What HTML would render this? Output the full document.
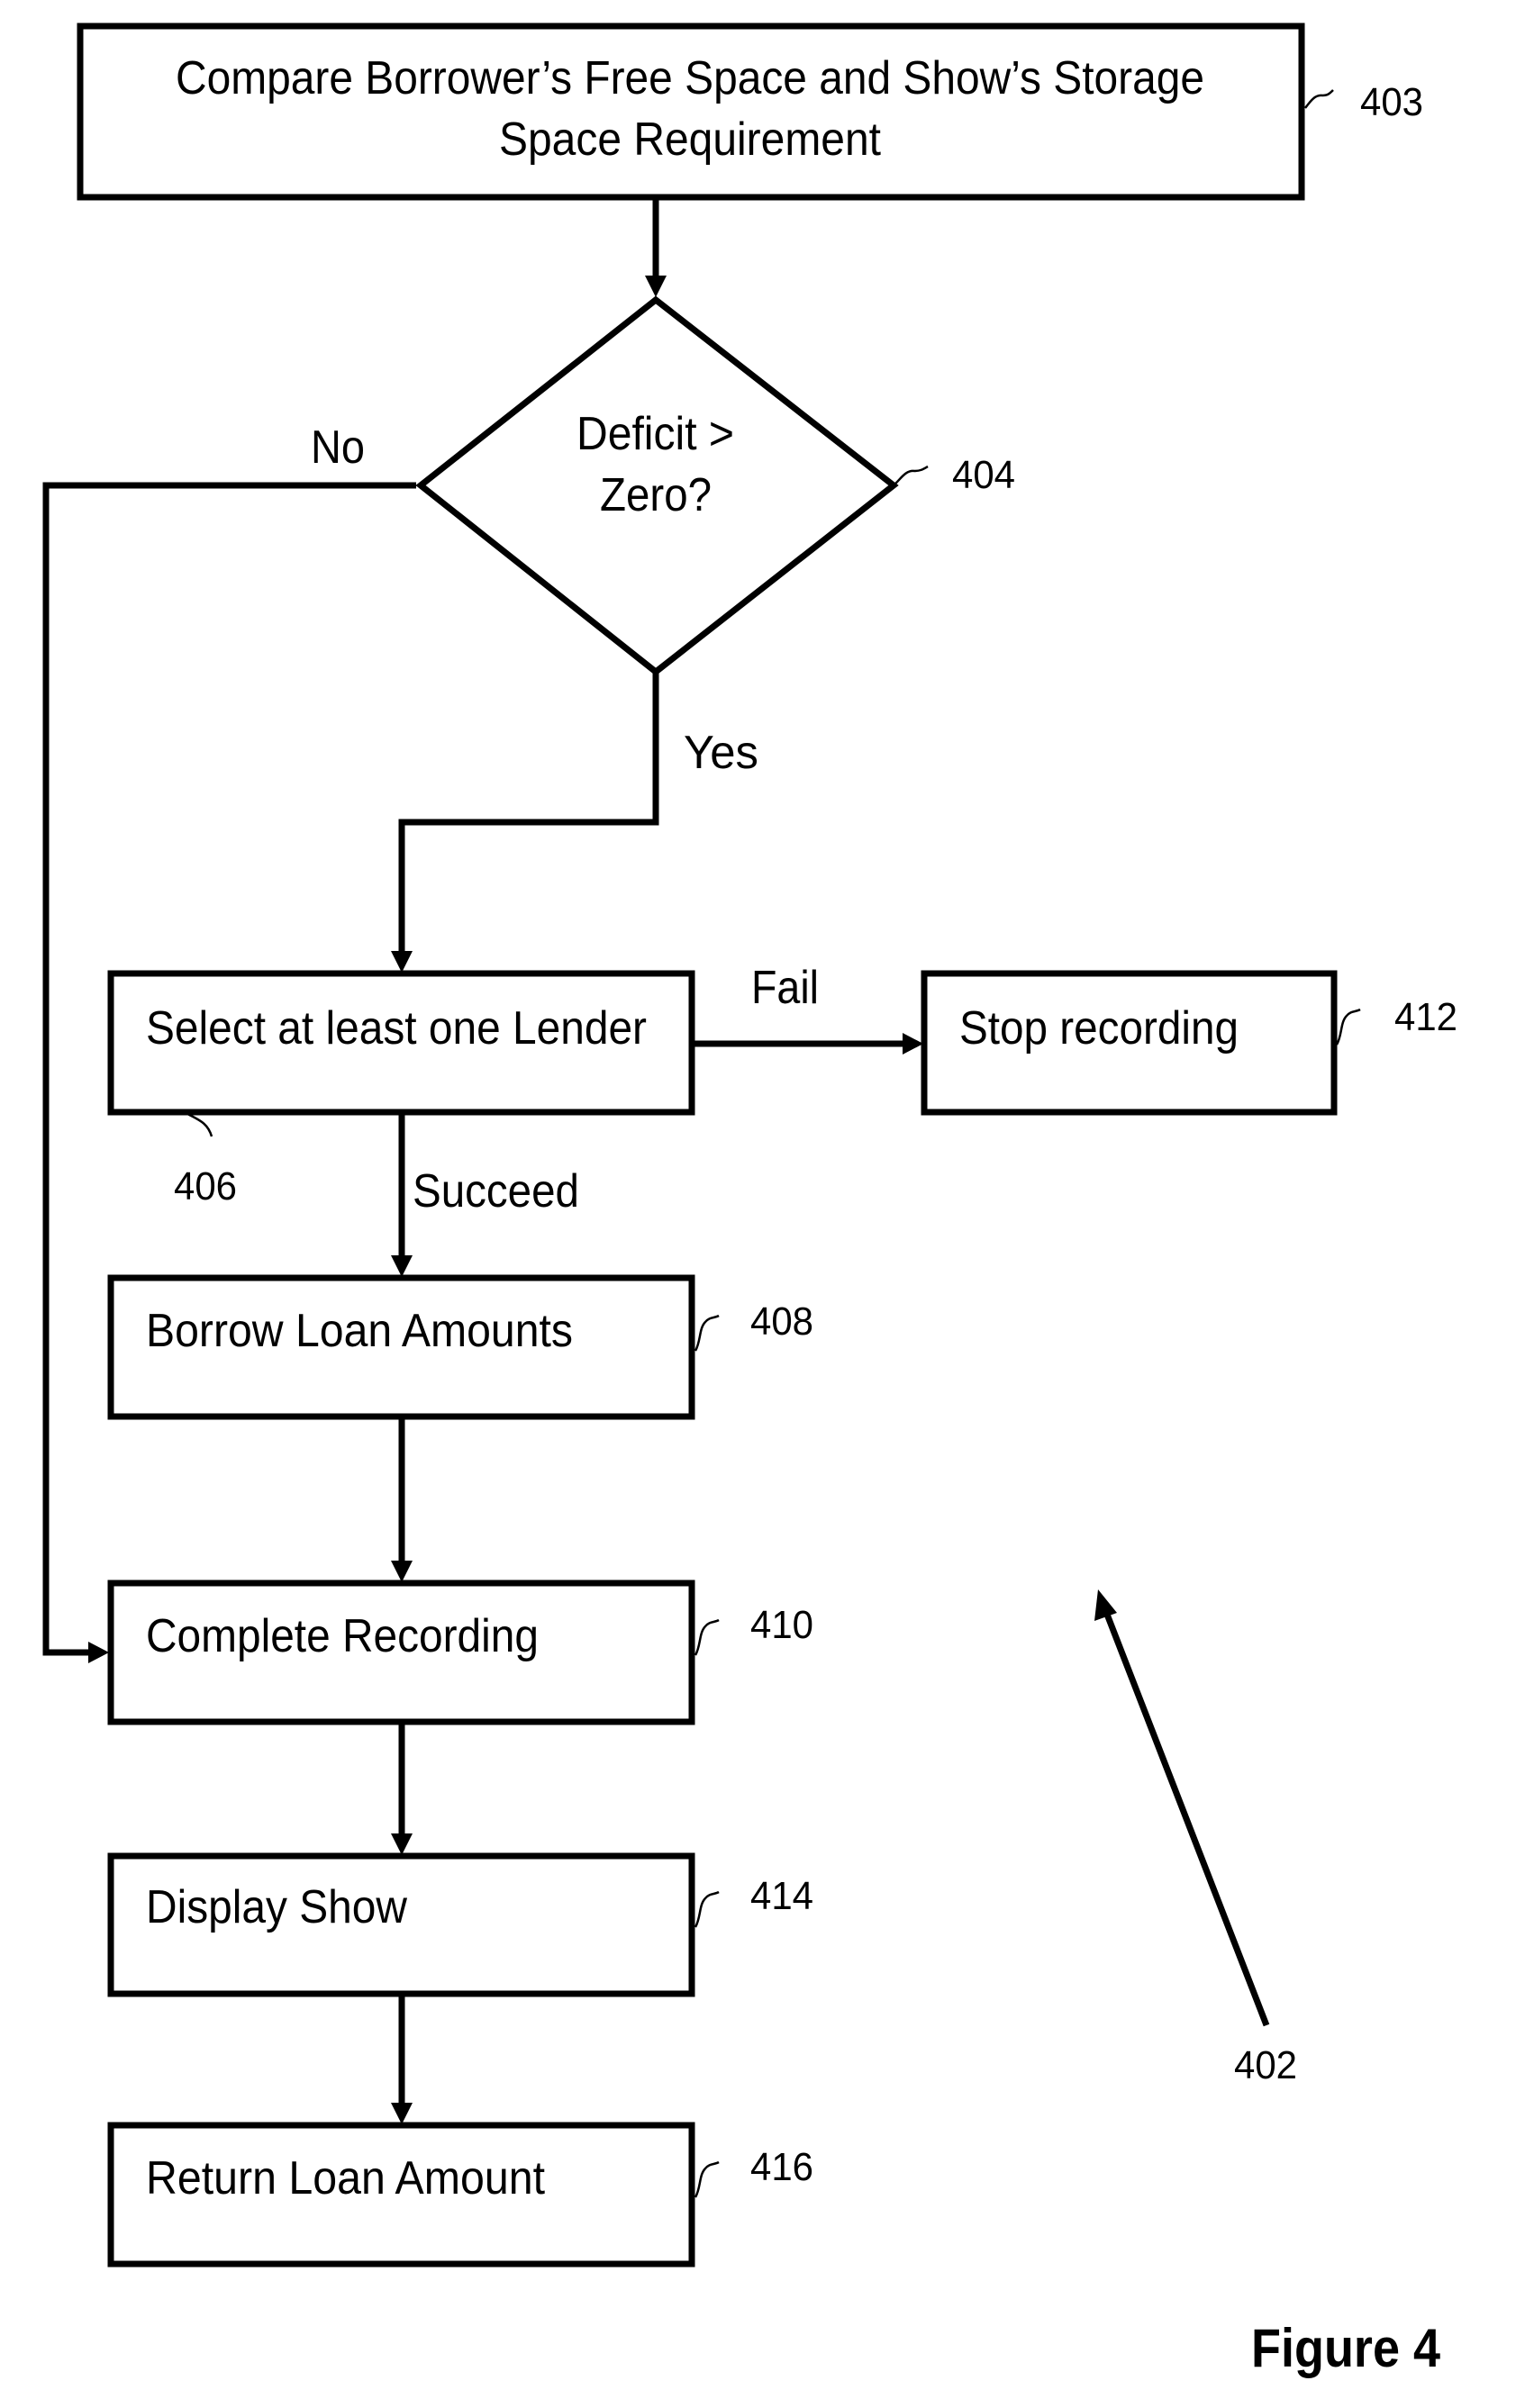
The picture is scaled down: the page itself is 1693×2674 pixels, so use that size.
<!DOCTYPE html>
<html><head><meta charset="utf-8"><style>html,body{margin:0;padding:0;background:#fff}svg{display:block}</style></head>
<body>
<svg width="1693" height="2674" viewBox="0 0 1693 2674" xmlns="http://www.w3.org/2000/svg" font-family="'Liberation Sans', sans-serif" fill="#000">
<defs>
<marker id="ah" markerWidth="10" markerHeight="10" refX="8" refY="5" orient="auto" markerUnits="userSpaceOnUse" viewBox="0 0 10 10">
</marker>
</defs>
<g fill="none" stroke="#000" stroke-width="7">
<rect x="89" y="29" width="1356" height="190"/>
<polygon points="728,333 467,539 992,539 728,746" transform="" style="display:none"/>
<polygon points="728,333 992,539 728,746 467,539"/>
<rect x="123" y="1081" width="645" height="154"/>
<rect x="1026" y="1081" width="455" height="154"/>
<rect x="123" y="1419" width="645" height="154"/>
<rect x="123" y="1758" width="645" height="154"/>
<rect x="123" y="2061" width="645" height="153"/>
<rect x="123" y="2360" width="645" height="154"/>
<!-- connectors -->
<polyline points="728,219 728,310"/>
<polyline points="462,539 51,539 51,1835 100,1835"/>
<polyline points="728,746 728,913 446,913 446,1058"/>
<polyline points="768,1159 1003,1159"/>
<polyline points="446,1235 446,1396"/>
<polyline points="446,1573 446,1735"/>
<polyline points="446,1912 446,2038"/>
<polyline points="446,2214 446,2337"/>
<line x1="1406" y1="2249" x2="1228" y2="1790"/>
</g>
<g stroke="none" fill="#000">
<polygon points="716,306 740,306 728,330"/>
<polygon points="98,1823 98,1847 121,1835"/>
<polygon points="434,1056 458,1056 446,1080"/>
<polygon points="1002,1147 1002,1171 1025,1159"/>
<polygon points="434,1394 458,1394 446,1418"/>
<polygon points="434,1733 458,1733 446,1757"/>
<polygon points="434,2036 458,2036 446,2060"/>
<polygon points="434,2335 458,2335 446,2359"/>
<polygon points="1219,1765 1215,1800 1240,1791"/>
</g>
<!-- squiggles -->
<g fill="none" stroke="#000" stroke-width="2.5">
<path d="M1449,120 C1455,112 1460,105 1468,106 C1474,106 1476,104 1480,100"/>
<path d="M992,539 C1000,532 1005,522 1015,523 C1022,523 1025,521 1030,518"/>
<path d="M1484,1160 C1490,1150 1488,1135 1495,1128 C1500,1122 1505,1124 1510,1121"/>
<path d="M205,1235 C218,1243 230,1245 235,1262"/>
<path d="M772,1500 C778,1490 776,1475 783,1468 C788,1462 793,1464 798,1461"/>
<path d="M772,1838 C778,1828 776,1813 783,1806 C788,1800 793,1802 798,1799"/>
<path d="M772,2140 C778,2130 776,2115 783,2108 C788,2102 793,2104 798,2101"/>
<path d="M772,2440 C778,2430 776,2415 783,2408 C788,2402 793,2404 798,2401"/>
</g>
<g font-size="52">
<text x="195" y="104" textLength="1142" lengthAdjust="spacingAndGlyphs">Compare Borrower’s Free Space and Show’s Storage</text>
<text x="554" y="172" textLength="424" lengthAdjust="spacingAndGlyphs">Space Requirement</text>
<text x="640" y="499" textLength="175" lengthAdjust="spacingAndGlyphs">Deficit &gt;</text>
<text x="666" y="567" textLength="124" lengthAdjust="spacingAndGlyphs">Zero?</text>
<text x="345" y="514" textLength="60" lengthAdjust="spacingAndGlyphs">No</text>
<text x="759" y="853" textLength="83" lengthAdjust="spacingAndGlyphs">Yes</text>
<text x="834" y="1114" textLength="75" lengthAdjust="spacingAndGlyphs">Fail</text>
<text x="162" y="1159" textLength="556" lengthAdjust="spacingAndGlyphs">Select at least one Lender</text>
<text x="1065" y="1159" textLength="310" lengthAdjust="spacingAndGlyphs">Stop recording</text>
<text x="458" y="1340" textLength="185" lengthAdjust="spacingAndGlyphs">Succeed</text>
<text x="162" y="1495" textLength="474" lengthAdjust="spacingAndGlyphs">Borrow Loan Amounts</text>
<text x="162" y="1834" textLength="436" lengthAdjust="spacingAndGlyphs">Complete Recording</text>
<text x="162" y="2135" textLength="290" lengthAdjust="spacingAndGlyphs">Display Show</text>
<text x="162" y="2436" textLength="443" lengthAdjust="spacingAndGlyphs">Return Loan Amount</text>
</g>
<g font-size="44">
<text x="1510" y="128" textLength="70" lengthAdjust="spacingAndGlyphs">403</text>
<text x="1057" y="542" textLength="70" lengthAdjust="spacingAndGlyphs">404</text>
<text x="1548" y="1144" textLength="70" lengthAdjust="spacingAndGlyphs">412</text>
<text x="193" y="1332" textLength="70" lengthAdjust="spacingAndGlyphs">406</text>
<text x="833" y="1482" textLength="70" lengthAdjust="spacingAndGlyphs">408</text>
<text x="833" y="1819" textLength="70" lengthAdjust="spacingAndGlyphs">410</text>
<text x="833" y="2120" textLength="70" lengthAdjust="spacingAndGlyphs">414</text>
<text x="833" y="2421" textLength="70" lengthAdjust="spacingAndGlyphs">416</text>
<text x="1370" y="2308" textLength="70" lengthAdjust="spacingAndGlyphs">402</text>
</g>
<text x="1389" y="2628" font-size="60" font-weight="bold" textLength="210" lengthAdjust="spacingAndGlyphs">Figure 4</text>
</svg>
</body></html>
